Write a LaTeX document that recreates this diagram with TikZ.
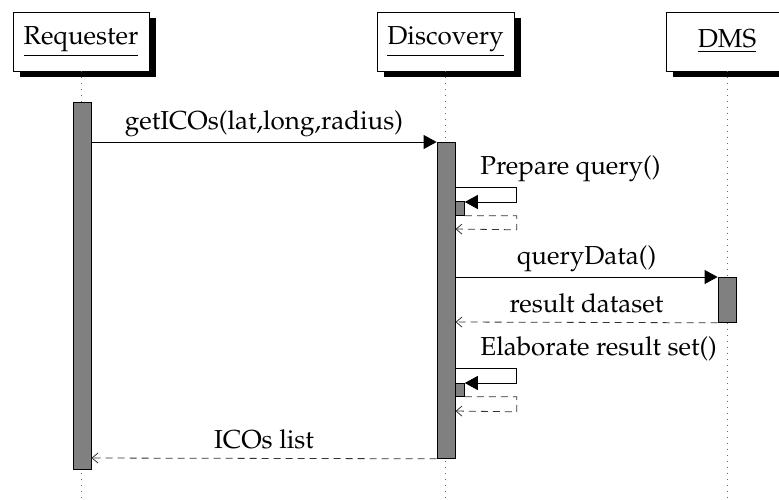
\documentclass[tikz,border=0pt]{standalone}
\usepackage[T1]{fontenc}
\usepackage{mathpazo}
\usepackage{tikz}
\usetikzlibrary{arrows.meta,shadows,calc}
\tikzstyle{object}=[draw,fill=white,minimum height=59pt,inner sep=0pt,font=\fontsize{26}{30}\selectfont,drop shadow={shadow xshift=7pt,shadow yshift=-6pt,fill=black,opacity=1}]
\tikzstyle{lifeline}=[draw=black!60,dash pattern=on 1pt off 5pt]
\tikzstyle{activity}=[draw,fill=black!50,minimum width=18pt,inner sep=0pt,anchor=north]
\tikzstyle{callarrow}=[draw,-{Triangle[length=13pt,width=14pt]}]
\tikzstyle{returnarrow}=[draw=black!80,dash pattern=on 7pt off 5pt,-{Straight Barb[length=6pt,width=10pt]}]
\tikzstyle{msglabel}=[font=\fontsize{26}{30}\selectfont,anchor=base,inner sep=0pt,yshift=13pt]
\tikzstyle{retlabel}=[msglabel,yshift=-3pt]
\begin{document}
\begin{tikzpicture}[x=1pt,y=-1pt,line width=0.8pt]
    \useasboundingbox (0,0) rectangle (779,499);

    % objects and their lifelines
    \foreach \x/\w/\name/\txt in {81/136/req/Requester, 445.5/137/disc/Discovery, 727/122/dms/DMS}
        \node[object, minimum width=\w pt] (\name) at (\x,41.5) {\underline{\txt}};

    \foreach \name in {req, disc, dms}
        \path[lifeline] (\name.south) -- (\name.south |- 0,499);

    % activations
    \node[activity, minimum height=367pt] (reqbar) at (82,102) {};
    \node[activity, minimum height=316pt] (discbar) at (446,142) {};
    \node[activity, minimum height=45pt] (dmsbar) at (727,277) {};
    \node[activity, minimum width=9pt, minimum height=14pt, anchor=north west] (prepbar) at (455,201) {};
    \node[activity, minimum width=9pt, minimum height=13pt, anchor=north west] (elabbar) at (455,383) {};

    % messages
    \path[callarrow] (reqbar.east |- 0,142) -- node[msglabel] {getICOs(lat,long,radius)} (discbar.west |- 0,142);

    \path[callarrow] (discbar.east |- 0,187) -| ++(61,15) -- ($(prepbar.north east)+(0,1)$);
    \node[msglabel, anchor=base west] (preplbl) at (480,187) {Prepare query()};
    \path[returnarrow] (prepbar.south east) -| ++(52,14) -- (discbar.east |- 0,229);

    \path[callarrow] (discbar.east |- 0,277) -- node[msglabel] {queryData()} (dmsbar.north west);
    \path[returnarrow] (dmsbar.south west) -- node[retlabel] {result dataset} (discbar.east |- 0,322);

    \path[callarrow] (discbar.east |- 0,368) -| ++(61,15) -- ($(elabbar.north east)+(0,0)$);
    \node[msglabel, anchor=base west] (elablbl) at (480,368) {Elaborate result set()};
    \path[returnarrow] (elabbar.south east) -| ++(52,15) -- (discbar.east |- 0,411);

    \path[returnarrow] (discbar.south west) -- node[retlabel] {ICOs list} (reqbar.east |- 0,458);

\end{tikzpicture}
\end{document}
